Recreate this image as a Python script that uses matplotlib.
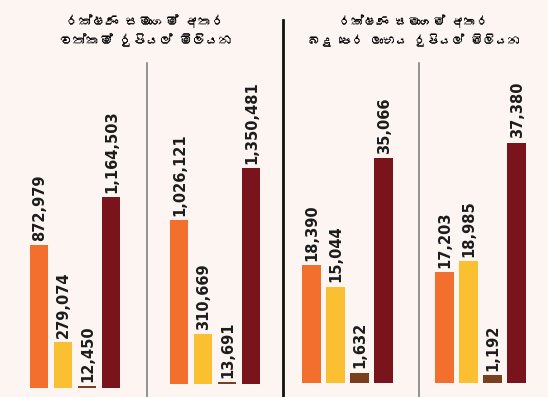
"""Rakshana samagam - wathkam saha badu pera labhaya (rupiyal miliyana)."""

import matplotlib
matplotlib.use("Agg")
import matplotlib.pyplot as plt
from matplotlib import font_manager

# dath
series = ["s1", "s2", "s3", "s4"]
colors = ["#F36F2D", "#FBBF32", "#7A3F1E", "#7A141C"]

assets_a = [872979, 279074, 12450, 1164503]
assets_b = [1026121, 310669, 13691, 1350481]
profit_a = [18390, 15044, 1632, 35066]
profit_b = [17203, 18985, 1192, 37380]

title_assets = "රක්ෂණ සමාගම් අතර\nවත්කම් රුපියල් මිලියන"
title_profit = "රක්ෂණ සමාගම් අතර\nබදු පෙර ලාභය රුපියල් මිලියන"

BG = "#FCF5F2"
W, H = 548, 397


def sinhala_family():
    # Sinhala akuru thiyena font ekak hoyanawa, naththam DejaVu
    for f in font_manager.fontManager.ttflist:
        try:
            cmap = font_manager.get_font(f.fname).get_charmap()
        except Exception:
            continue
        if 0x0DBB in cmap:
            return [f.name, "DejaVu Sans"]
    return ["DejaVu Sans"]


def px_axes(fig, left, base, width, height):
    return fig.add_axes([left / W, (H - base) / H, width / W, height / H])


def draw_group(ax, values, per_px, height):
    ax.set_facecolor("none")
    ax.bar(range(len(values)), values, width=0.79, color=colors)
    ax.set_xlim(-0.5, len(values) - 0.5)
    ax.set_ylim(0, per_px * height)
    for i, v in enumerate(values):
        ax.annotate(f"{v:,}", (i, v), xytext=(0.5, 3), textcoords="offset points",
                    rotation=90, ha="center", va="bottom", fontsize=10.5,
                    fontweight="bold", color="#1c1c1c", annotation_clip=False)
    ax.axis("off")


fig = plt.figure(figsize=(W / 100, H / 100), dpi=100, facecolor=BG)

# (left px, baseline px, value per px)
layout = [
    (assets_a, 27, 388, 6100),
    (assets_b, 167, 384, 6250),
    (profit_a, 299.5, 383, 156),
    (profit_b, 432.5, 383, 155.5),
]
for vals, left, base, per_px in layout:
    ax = px_axes(fig, left, base, 96, 320)
    draw_group(ax, vals, per_px, 320)

# bedana ira
line_ax = fig.add_axes([0, 0, 1, 1], facecolor="none")
line_ax.set_xlim(0, W)
line_ax.set_ylim(H, 0)
line_ax.axis("off")
line_ax.plot([147, 147], [63, H], color="#777777", lw=1.1)
line_ax.plot([419, 419], [63, H], color="#777777", lw=1.1)
line_ax.plot([283, 283], [20, H], color="#111111", lw=2.0)

fam = sinhala_family()
fig.text(146 / W, 1 - 31 / H, title_assets, ha="center", va="center", fontsize=9.5,
         fontweight="bold", family=fam, linespacing=1.45)
fig.text(414 / W, 1 - 31 / H, title_profit, ha="center", va="center", fontsize=9,
         fontweight="bold", family=fam, linespacing=1.5)

fig.savefig("out.png", dpi=100, facecolor=BG)
